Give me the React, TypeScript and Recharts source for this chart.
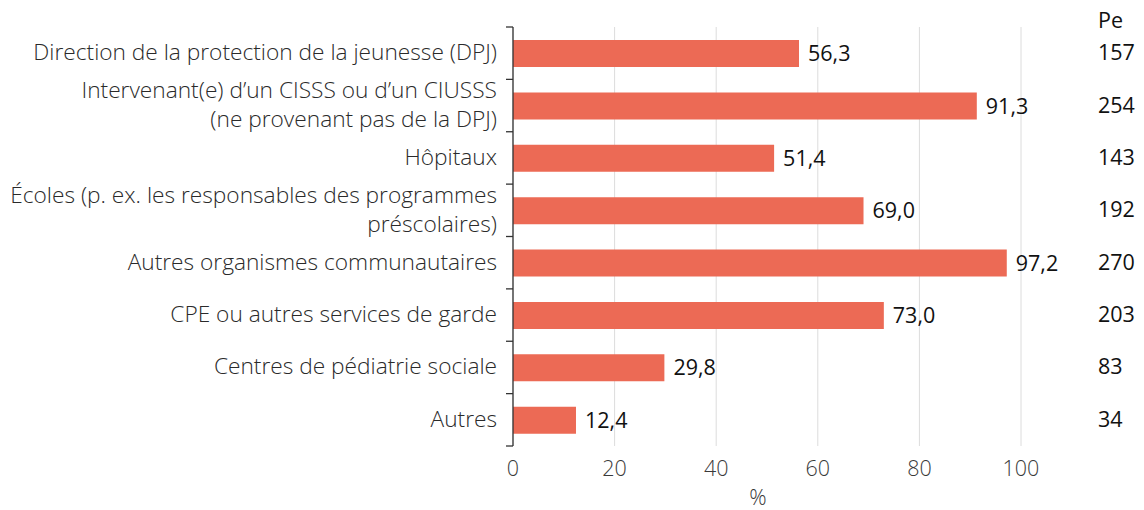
import { BarChart, Bar, XAxis, YAxis, CartesianGrid, LabelList } from 'recharts'

const categories = [
  'Direction de la protection de la jeunesse (DPJ)',
  'Intervenant(e) d’un CISSS ou d’un CIUSSS\n(ne provenant pas de la DPJ)',
  'Hôpitaux',
  'Écoles (p. ex. les responsables des programmes\npréscolaires)',
  'Autres organismes communautaires',
  'CPE ou autres services de garde',
  'Centres de pédiatrie sociale',
  'Autres',
]
const percents = [56.3, 91.3, 51.4, 69.0, 97.2, 73.0, 29.8, 12.4]
const counts = [157, 254, 143, 192, 270, 203, 83, 34]
const xTicks = [0, 20, 40, 60, 80, 100]

const data = categories.map((cat, i) => ({ cat, value: percents[i], n: counts[i] }))

const W = 1144
const H = 510
const TOP = 27
const X_AXIS_H = 64
const BAND = (H - TOP - X_AXIS_H) / categories.length
const FONT = '"Open Sans", sans-serif'
const fmt = (v: number) => v.toFixed(1).replace('.', ',')

function CatTick(props: any) {
  const { x, y, payload, index } = props
  const lines = String(payload.value).split('\n')
  const lh = 29
  const axisX = x + 16
  const top = y - BAND / 2
  return (
    <g>
      <line x1={axisX - 7} x2={axisX} y1={top} y2={top} stroke="#333" strokeWidth={1.3} />
      {index === categories.length - 1 && (
        <line x1={axisX - 7} x2={axisX} y1={y + BAND / 2} y2={y + BAND / 2} stroke="#333" strokeWidth={1.3} />
      )}
      <text x={x} y={y} textAnchor="end" fill="#2a2a2a" fontSize={22.7} fontWeight={300} fontFamily={FONT}>
        {lines.map((l, i) => (
          <tspan key={i} x={x} dy={i === 0 ? -((lines.length - 1) * lh) / 2 + 7 : lh}>
            {l}
          </tspan>
        ))}
      </text>
    </g>
  )
}

function CountTick(props: any) {
  const { x, y, index } = props
  return (
    <text x={x} y={y} dy={7} textAnchor="start" fill="#111" fontSize={21.5} fontFamily={FONT}>
      {counts[index]}
    </text>
  )
}

export default function App() {
  return (
    <div style={{ position: 'absolute', left: 0, top: 0, width: W, height: H, background: '#fff' }}>
      <div
        style={{
          position: 'absolute',
          left: 1098,
          top: 5,
          fontFamily: FONT,
          fontSize: 21.5,
          lineHeight: '29px',
          color: '#111',
        }}
      >
        Pe
      </div>
      <BarChart
        width={W}
        height={H}
        data={data}
        layout="vertical"
        margin={{ top: TOP, right: 0, left: 0, bottom: 0 }}
        barSize={27}
      >
        <CartesianGrid horizontal={false} stroke="#dcdcdc" />
        <XAxis
          type="number"
          domain={[0, 100]}
          ticks={xTicks}
          axisLine={false}
          tickLine={false}
          tickSize={0}
          tickMargin={15}
          height={X_AXIS_H}
          tick={{ fill: '#3a3a3a', fontSize: 21.5, fontWeight: 300, fontFamily: FONT }}
          label={{ value: '%', position: 'insideBottom', offset: 5, dx: -9, fill: '#3a3a3a', fontSize: 21.5, fontWeight: 300, fontFamily: FONT }}
        />
        <YAxis
          yAxisId="cat"
          type="category"
          dataKey="cat"
          width={513}
          axisLine={{ stroke: '#333', strokeWidth: 1.3 }}
          tickLine={false}
          tickSize={0}
          tickMargin={16}
          interval={0}
          tick={<CatTick />}
        />
        <YAxis
          yAxisId="n"
          orientation="right"
          type="category"
          dataKey="cat"
          width={123}
          axisLine={false}
          tickLine={false}
          tickSize={0}
          tickMargin={77}
          interval={0}
          tick={<CountTick />}
        />
        <Bar yAxisId="cat" dataKey="value" fill="#EC6A55" isAnimationActive={false}>
          <LabelList
            dataKey="value"
            position="right"
            offset={9}
            formatter={(v: any) => fmt(Number(v))}
            fill="#111"
            fontSize={21.5}
            fontFamily={FONT}
          />
        </Bar>
      </BarChart>
    </div>
  )
}
